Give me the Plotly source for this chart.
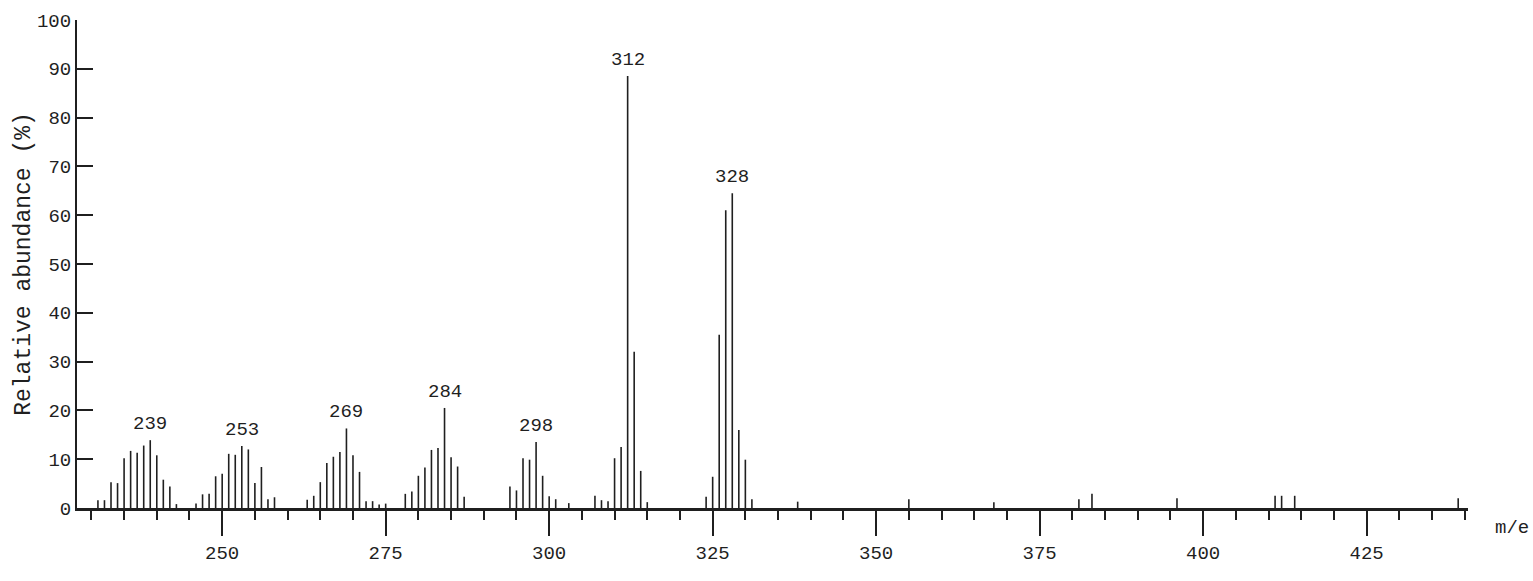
import plotly.graph_objects as go

# m/e values and relative abundance (%)
mz = [231, 232, 233, 234, 235, 236, 237, 238, 239, 240, 241, 242, 243,
      246, 247, 248, 249, 250, 251, 252, 253, 254, 255, 256, 257, 258,
      263, 264, 265, 266, 267, 268, 269, 270, 271, 272, 273, 274, 275,
      278, 279, 280, 281, 282, 283, 284, 285, 286, 287,
      294, 295, 296, 297, 298, 299, 300, 301, 303,
      307, 308, 309, 310, 311, 312, 313, 314, 315,
      324, 325, 326, 327, 328, 329, 330, 331,
      338, 355, 368, 381, 383, 396, 411, 412, 414, 439]
abundance = [1.6, 1.6, 5.3, 5.1, 10.2, 11.7, 11.3, 12.8, 13.9, 10.8, 5.8, 4.4, 0.8,
             0.9, 2.8, 2.9, 6.5, 7.0, 11.1, 10.9, 12.7, 12.0, 5.1, 8.4, 1.8, 2.2,
             1.7, 2.5, 5.3, 9.2, 10.5, 11.5, 16.3, 10.8, 7.4, 1.4, 1.4, 0.7, 0.9,
             2.9, 3.4, 6.6, 8.3, 11.9, 12.3, 20.5, 10.4, 8.5, 2.3,
             4.4, 3.6, 10.2, 9.9, 13.5, 6.6, 2.4, 1.8, 1.0,
             2.5, 1.6, 1.4, 10.2, 12.5, 88.5, 32.0, 7.6, 1.2,
             2.3, 6.4, 35.5, 61.0, 64.5, 16.0, 9.9, 1.8,
             1.3, 1.8, 1.2, 1.8, 2.9, 2.0, 2.5, 2.5, 2.5, 2.0]
labeled_peaks = [239, 253, 269, 284, 298, 312, 328]
y_ticks = [0, 10, 20, 30, 40, 50, 60, 70, 80, 90, 100]
x_major_ticks = [250, 275, 300, 325, 350, 375, 400, 425]

FONT = "Liberation Mono"
INK = "#1f1f1f"

xs, ys = [], []
for m, a in zip(mz, abundance):
    xs += [m, m, None]
    ys += [0, a, None]

fig = go.Figure()
fig.add_trace(go.Scatter(x=xs, y=ys, mode="lines",
                         line=dict(color=INK, width=1.6),
                         hoverinfo="skip", showlegend=False))

lookup = dict(zip(mz, abundance))
for p in labeled_peaks:
    fig.add_annotation(x=p, y=lookup[p], text=str(p), showarrow=False,
                       yanchor="bottom", yshift=3,
                       font=dict(family=FONT, size=19, color=INK))

fig.add_annotation(x=1.018, y=-0.04, xref="paper", yref="paper", text="m/e",
                   showarrow=False, xanchor="left", yanchor="middle",
                   font=dict(family=FONT, size=19, color=INK))

fig.update_layout(
    width=1533, height=581,
    margin=dict(l=77, r=65, t=20, b=73),
    paper_bgcolor="white", plot_bgcolor="white",
    font=dict(family=FONT, color=INK),
    xaxis=dict(range=[227.8, 440.5], showgrid=False, zeroline=False,
               automargin=False,
               showline=True, linecolor=INK, linewidth=2.5,
               tickmode="array", tickvals=x_major_ticks,
               ticktext=[str(v) for v in x_major_ticks],
               ticks="outside", ticklen=25, tickwidth=1.5, tickcolor=INK,
               tickfont=dict(family=FONT, size=19, color=INK),
               minor=dict(tick0=230, dtick=5, ticks="outside", ticklen=9,
                          tickwidth=1.5, tickcolor=INK, showgrid=False)),
    yaxis=dict(range=[0, 100], showgrid=False, zeroline=False,
               automargin=False,
               showline=True, linecolor=INK, linewidth=2,
               tickmode="array", tickvals=y_ticks,
               ticks="inside", ticklen=16, tickwidth=1.5, tickcolor=INK,
               tickfont=dict(family=FONT, size=19, color=INK),
               title=dict(text="Relative abundance (%)", standoff=0,
                          font=dict(family=FONT, size=23, color=INK))),
)

fig.write_html("out.html", config={"displayModeBar": False},
               post_script="document.body.style.margin='0';")
